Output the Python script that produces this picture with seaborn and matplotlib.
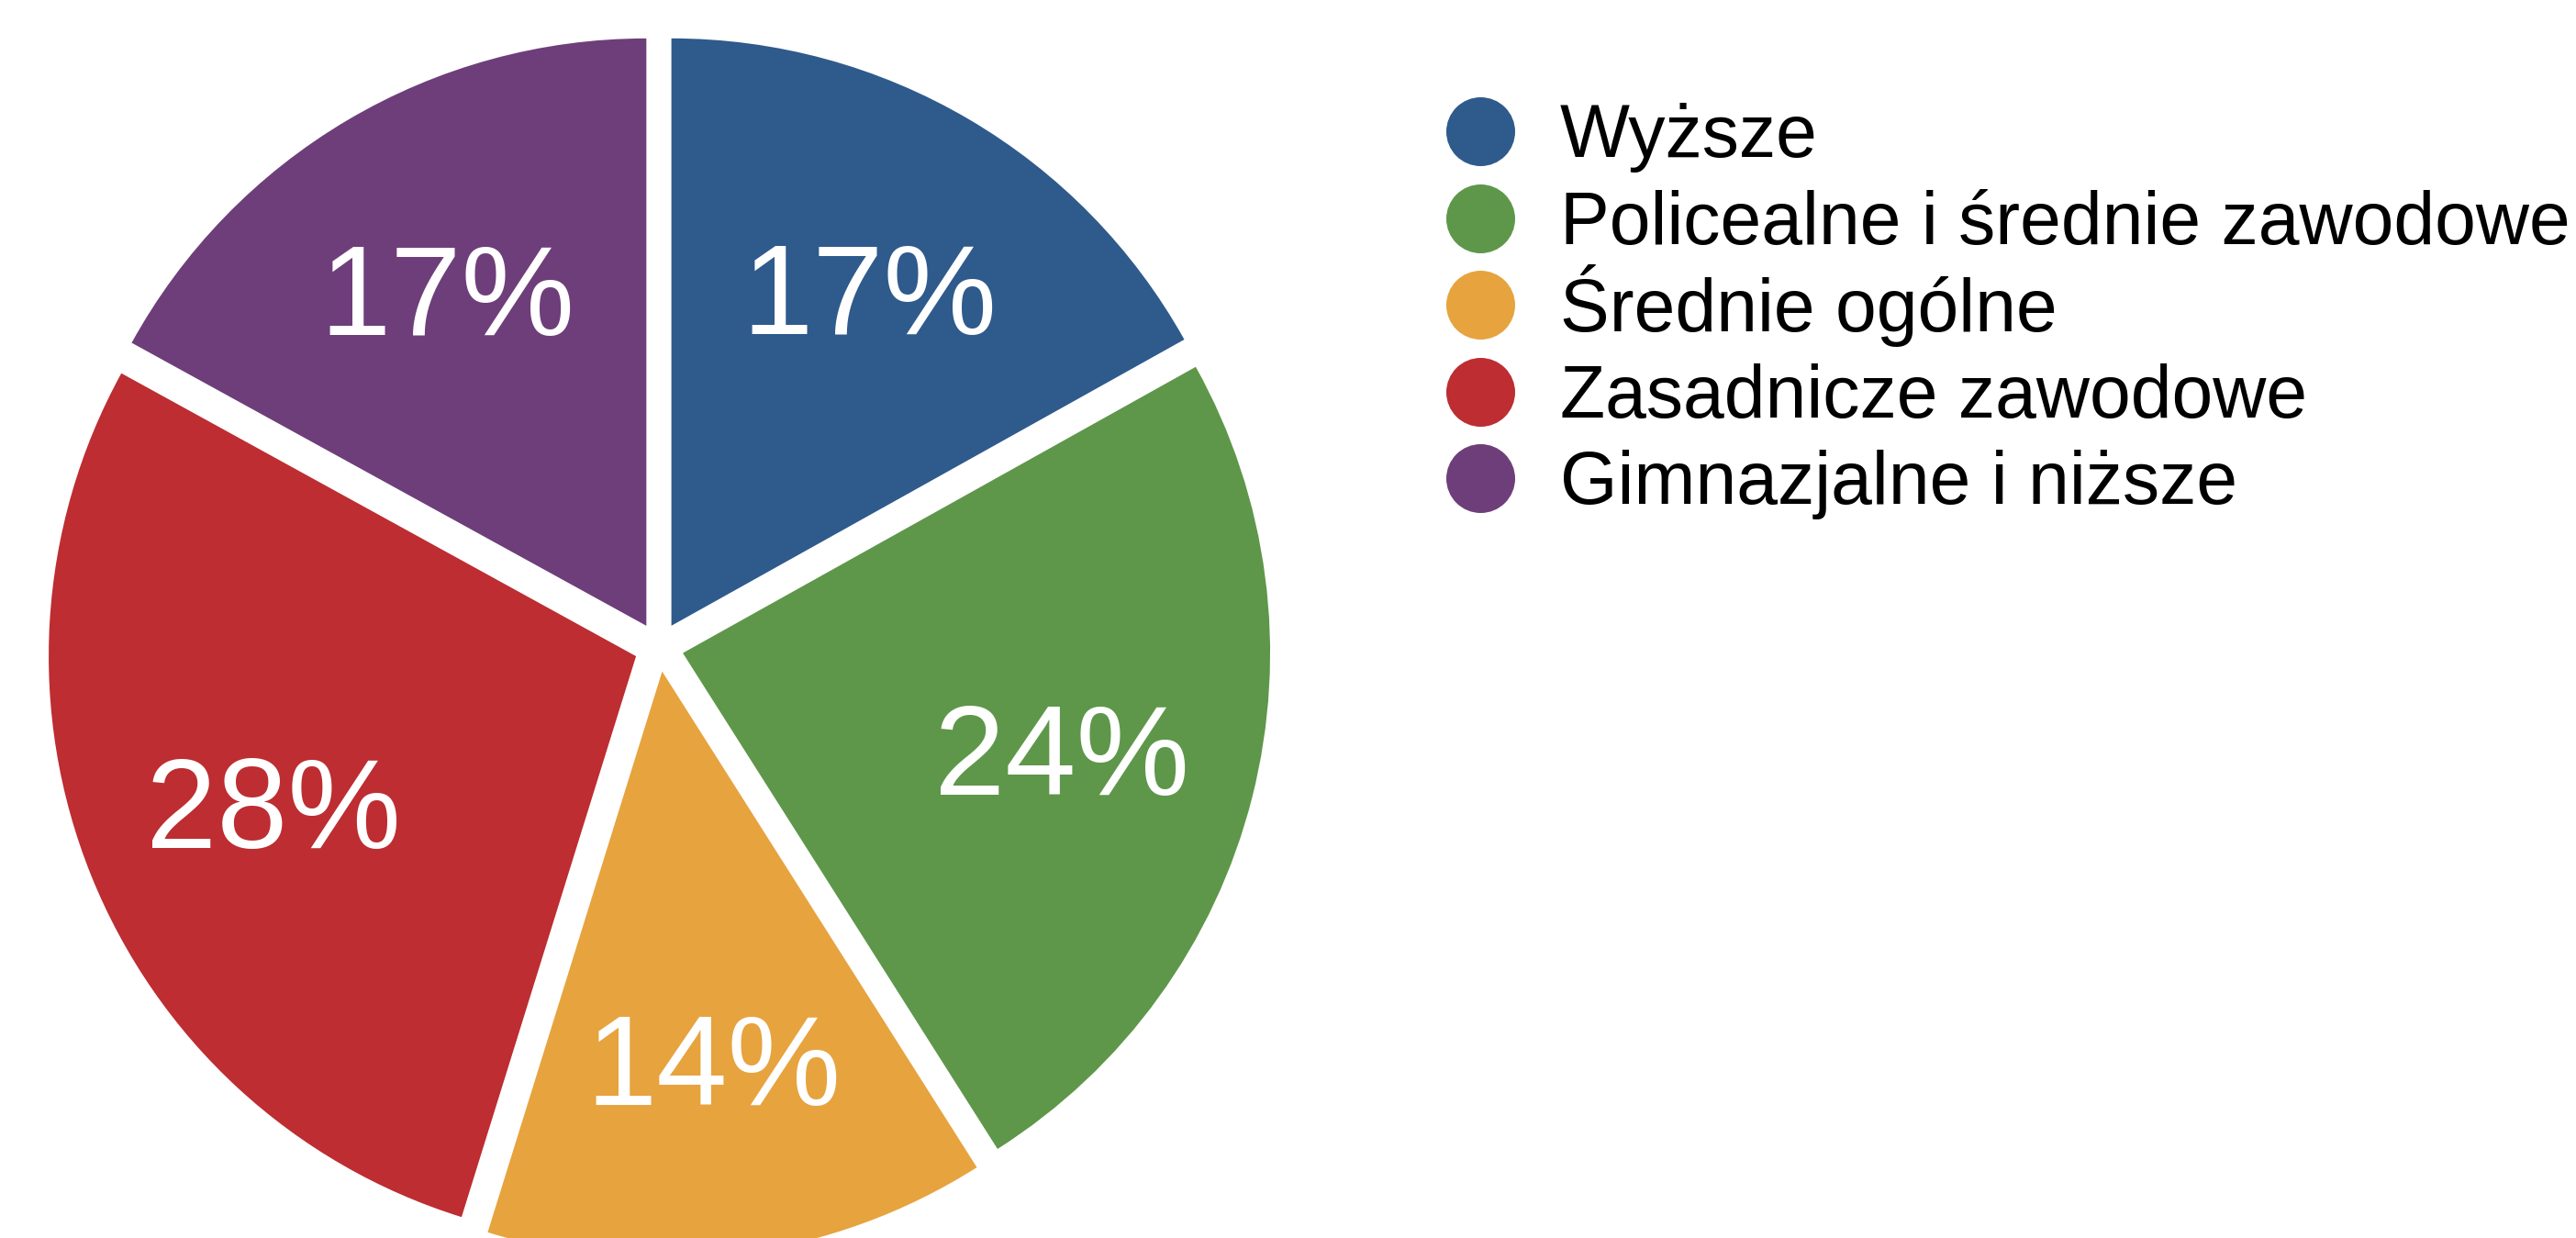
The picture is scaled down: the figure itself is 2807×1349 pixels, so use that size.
import matplotlib.pyplot as plt
import matplotlib.transforms as mtransforms
import seaborn as sns
from matplotlib.lines import Line2D

# Education level shares (pie, clockwise from 12 o'clock)
categories = ["Wyższe", "Policealne i średnie zawodowe", "Średnie ogólne",
              "Zasadnicze zawodowe", "Gimnazjalne i niższe"]
shares = [16.9, 24.1, 13.8, 28.2, 17.0]
colors = ["#2f5a8c", "#5e974a", "#e7a33e", "#bd2d31", "#6e3e7a"]

sns.set_theme(style="white")
plt.rcParams["font.family"] = ["Liberation Sans", "DejaVu Sans"]

W, H, DPI = 2807, 1349, 100
fig = plt.figure(figsize=(W / DPI, H / DPI), dpi=DPI)
ax = fig.add_axes([0, 0, 1, 1])

wedges, texts, autotexts = ax.pie(
    shares, colors=colors, startangle=90, counterclock=False,
    explode=[0.042] * len(shares),
    autopct=lambda p: f"{p:.0f}%", pctdistance=0.666,
    textprops=dict(color="white", fontsize=100),
    wedgeprops=dict(linewidth=0),
)
# nudge the percentage labels down a little (matches the original placement)
shift = mtransforms.ScaledTranslation(0, -14 / DPI, fig.dpi_scale_trans)
for t in autotexts:
    t.set_transform(t.get_transform() + shift)

# pie centre around (718, 705) px from top-left, radius ~640 px
r_px = 640
ax.set_xlim(-718 / r_px, (W - 718) / r_px)
ax.set_ylim(-(H - 705) / r_px, 705 / r_px)
ax.set_aspect("equal")
ax.axis("off")

# legend drawn row by row so the spacing stays even despite accents
x_mark, x_text = 1613 / W, 1700 / W
y_first, step, cap = 143, 94.5, 57
for i, (cat, c) in enumerate(zip(categories, colors)):
    yc = y_first + i * step
    fig.add_artist(Line2D([x_mark], [1 - yc / H], transform=fig.transFigure,
                          marker="o", linestyle="", markersize=54,
                          markerfacecolor=c, markeredgewidth=0))
    fig.text(x_text, 1 - (yc + cap / 2) / H, cat, fontsize=58,
             color="black", va="baseline", ha="left")

fig.savefig("out.png", dpi=DPI)
